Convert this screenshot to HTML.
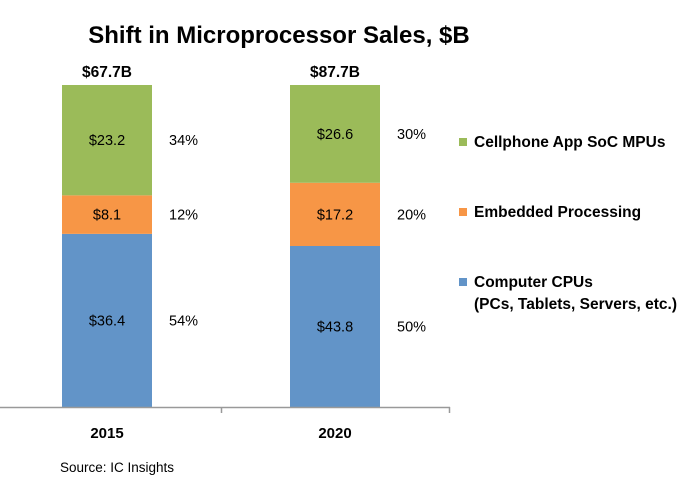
<!DOCTYPE html>
<html><head><meta charset="utf-8"><style>
body{margin:0;background:#fff}
svg{display:block;font-family:"Liberation Sans",Calibri,sans-serif}
</style></head><body>
<svg id="chart" width="690" height="485">
<text x="279" y="43" text-anchor="middle" font-size="24" font-weight="bold" fill="#000">Shift in Microprocessor Sales, $B</text>
<g id="bars"></g>
<line x1="0" y1="407.5" x2="450" y2="407.5" stroke="#999" stroke-width="1.5"/>
<line x1="221.5" y1="407" x2="221.5" y2="413" stroke="#999" stroke-width="1.5"/>
<line x1="449.5" y1="407" x2="449.5" y2="413" stroke="#999" stroke-width="1.5"/>
<text x="60" y="472" font-size="13.5" fill="#000">Source:  IC Insights</text>
<g>
<rect x="459" y="138" width="8" height="8" fill="#9BBB59"/>
<text x="474" y="147" font-size="15.5" font-weight="bold">Cellphone App SoC MPUs</text>
<rect x="459" y="208" width="8" height="8" fill="#F79646"/>
<text x="474" y="217" font-size="15.5" font-weight="bold">Embedded Processing</text>
<rect x="459" y="278" width="8" height="8" fill="#6294C8"/>
<text x="474" y="287" font-size="15.5" font-weight="bold">Computer CPUs</text>
<text x="474" y="309" font-size="15.5" font-weight="bold">(PCs, Tablets, Servers, etc.)</text>
</g>
</svg>
<script>
const categories=["2015","2020"];
const cpuValues=[36.4,43.8];
const embeddedValues=[8.1,17.2];
const cellValues=[23.2,26.6];
const totalLabels=["$67.7B","$87.7B"];
const NS="http://www.w3.org/2000/svg";
const g=document.getElementById("bars");
const top0=85,bottom0=407,barW=90;
function xPos(i){return 62+i*228;}
function yScale(frac){return bottom0-frac*(bottom0-top0);}
function mk(tag,attrs){const e=document.createElementNS(NS,tag);for(const k in attrs)e.setAttribute(k,attrs[k]);g.appendChild(e);return e;}
const series=[{v:cpuValues,c:"#6294C8",n:"computer"},{v:embeddedValues,c:"#F79646",n:"embedded"},{v:cellValues,c:"#9BBB59",n:"cellphone"}];
categories.forEach((cat,i)=>{
  const total=series.reduce((s,se)=>s+se.v[i],0);
  let cum=0;const x=xPos(i);
  series.forEach(se=>{
    const v=se.v[i];const y1=yScale((cum+v)/total),y0=yScale(cum/total);cum+=v;
    const r=mk("rect",{x:x,y:y1,width:barW,height:y0-y1,fill:se.c});
    
    
    const t=mk("text",{x:x+barW/2,y:(y0+y1)/2+5,"text-anchor":"middle","font-size":"14.5",fill:"#000"});
    t.textContent="$"+v.toFixed(1);
    
    
    const p=mk("text",{x:x+107,y:(y0+y1)/2+5,"font-size":"14.5",fill:"#000"});
    p.textContent=Math.round(v/total*100)+"%";
    
    
  });
  const tl=mk("text",{x:x+barW/2,y:top0-8,"text-anchor":"middle","font-size":"15.5","font-weight":"bold"});
  tl.textContent=totalLabels[i];
  
  
  const cl=mk("text",{x:x+barW/2,y:438,"text-anchor":"middle","font-size":"15","font-weight":"bold"});
  cl.textContent=cat;
  
  
});
</script>
</body></html>
